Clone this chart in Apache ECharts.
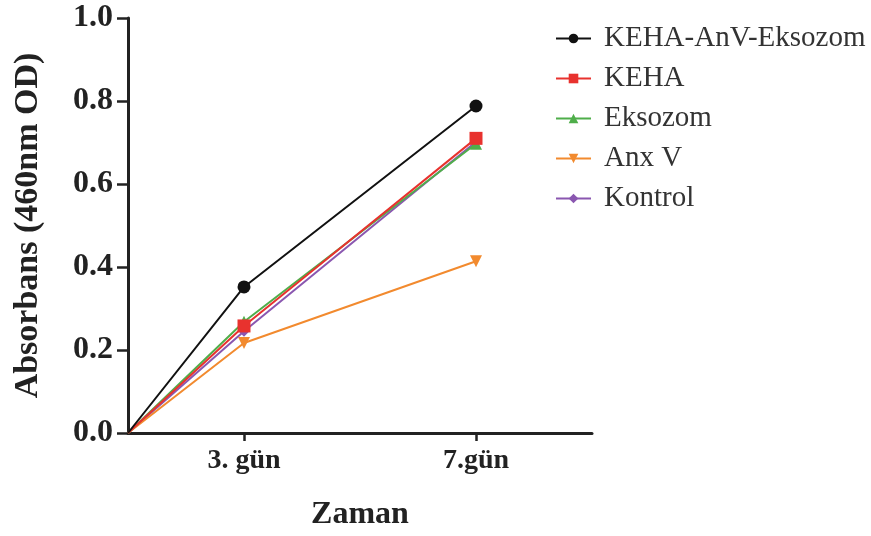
<!DOCTYPE html>
<html>
<head>
<meta charset="utf-8">
<script src="https://cdn.jsdelivr.net/npm/echarts@6/dist/echarts.min.js"></script>
<style>
  html, body { margin: 0; padding: 0; background: #fff; }
  #main_chart { width: 871px; height: 536px; }
</style>
</head>
<body>
<div id="main_chart"></div>
<script>
// x konumlari (0 = baslangic), etiketler
var xPos = [0, 1, 3];
var xTickPos = [1, 3];
var xTickLabels = ['3. gün', '7.gün'];

var seriesNames = ['KEHA-AnV-Eksozom', 'KEHA', 'Eksozom', 'Anx V', 'Kontrol'];
var kehaAnvEks = [0, 0.352, 0.788];
var keha = [0, 0.258, 0.710];
var eksozom = [0, 0.268, 0.697];
var anxV = [0, 0.217, 0.414];
var kontrol = [0, 0.245, 0.702];

var colors = ['#111111', '#e8322e', '#4fae4a', '#f28a2e', '#8a57b0'];
var symbols = ['circle', 'rect', 'triangle', 'triangle', 'diamond'];
var symbolRot = [0, 0, 0, 180, 0];
var symbolSizes = [13, 13, 12, 12, 11];
var allData = [kehaAnvEks, keha, eksozom, anxV, kontrol];

function pairs(vals){
	var out = [];
	for(var i=0;i<vals.length;i++){
		out.push([xPos[i], vals[i]]);
	}
	return out;
}

var mySeries = [];
for(var j=allData.length-1;j>=0;j--){
	mySeries.push({
		name: seriesNames[j],
		type: 'line',
		data: pairs(allData[j]),
		symbol: symbols[j],
		symbolRotate: symbolRot[j],
		symbolSize: function(v, p){ return p.dataIndex === 0 ? 0 : symbolSizes[seriesNames.indexOf(p.seriesName)]; },
		showAllSymbol: true,
		itemStyle: { color: colors[j] },
		lineStyle: { color: colors[j], width: 2 },
		z: 10 - j,
		animation: false
	});
}

var myChart = echarts.init(document.getElementById('main_chart'));
var serif = '"Liberation Serif", "DejaVu Serif", serif';
var option = {
	backgroundColor: '#fff',
	textStyle: { fontFamily: serif },
	grid: { left: 128, right: 279, top: 18, bottom: 103 },
	legend: {
		data: seriesNames,
		orient: 'vertical',
		left: 550,
		top: 19,
		itemGap: 11,
		itemWidth: 35,
		itemHeight: 12,
		textStyle: { fontFamily: 'Liberation Serif', fontWeight: 'normal', fontStyle: 'normal', fontSize: 29, color: '#333', padding: [0, 0, 0, 8] }
	},
	xAxis: {
		type: 'value',
		min: 0,
		max: 4,
		interval: 1,
		splitLine: { show: false },
		axisLine: { lineStyle: { color: '#222', width: 3 } },
		axisTick: { show: true, length: 8, customValues: xTickPos, lineStyle: { color: '#222', width: 2.5 } },
		axisLabel: {
			customValues: xTickPos,
			formatter: function(v){ return xTickLabels[xTickPos.indexOf(v)] || ''; },
			fontFamily: serif, fontWeight: 'bold', fontSize: 28, color: '#222', margin: 14
		},
		name: 'Zaman',
		nameLocation: 'middle',
		nameGap: 66,
		nameTextStyle: { fontFamily: serif, fontWeight: 'bold', fontSize: 32, color: '#222' }
	},
	yAxis: {
		type: 'value',
		min: 0,
		max: 1,
		interval: 0.2,
		splitLine: { show: false },
		axisLine: { show: true, lineStyle: { color: '#222', width: 3 } },
		axisTick: { show: true, length: 11, lineStyle: { color: '#222', width: 2.5 } },
		axisLabel: {
			formatter: function(v){ return v.toFixed(1); },
			fontFamily: serif, fontWeight: 'bold', fontSize: 32, color: '#222', margin: 15
		},
		name: 'Absorbans (460nm OD)',
		nameLocation: 'middle',
		nameGap: 83,
		nameTextStyle: { fontFamily: serif, fontWeight: 'bold', fontSize: 34, color: '#222' }
	},
	series: mySeries
};
myChart.setOption(option);
</script>
</body>
</html>
